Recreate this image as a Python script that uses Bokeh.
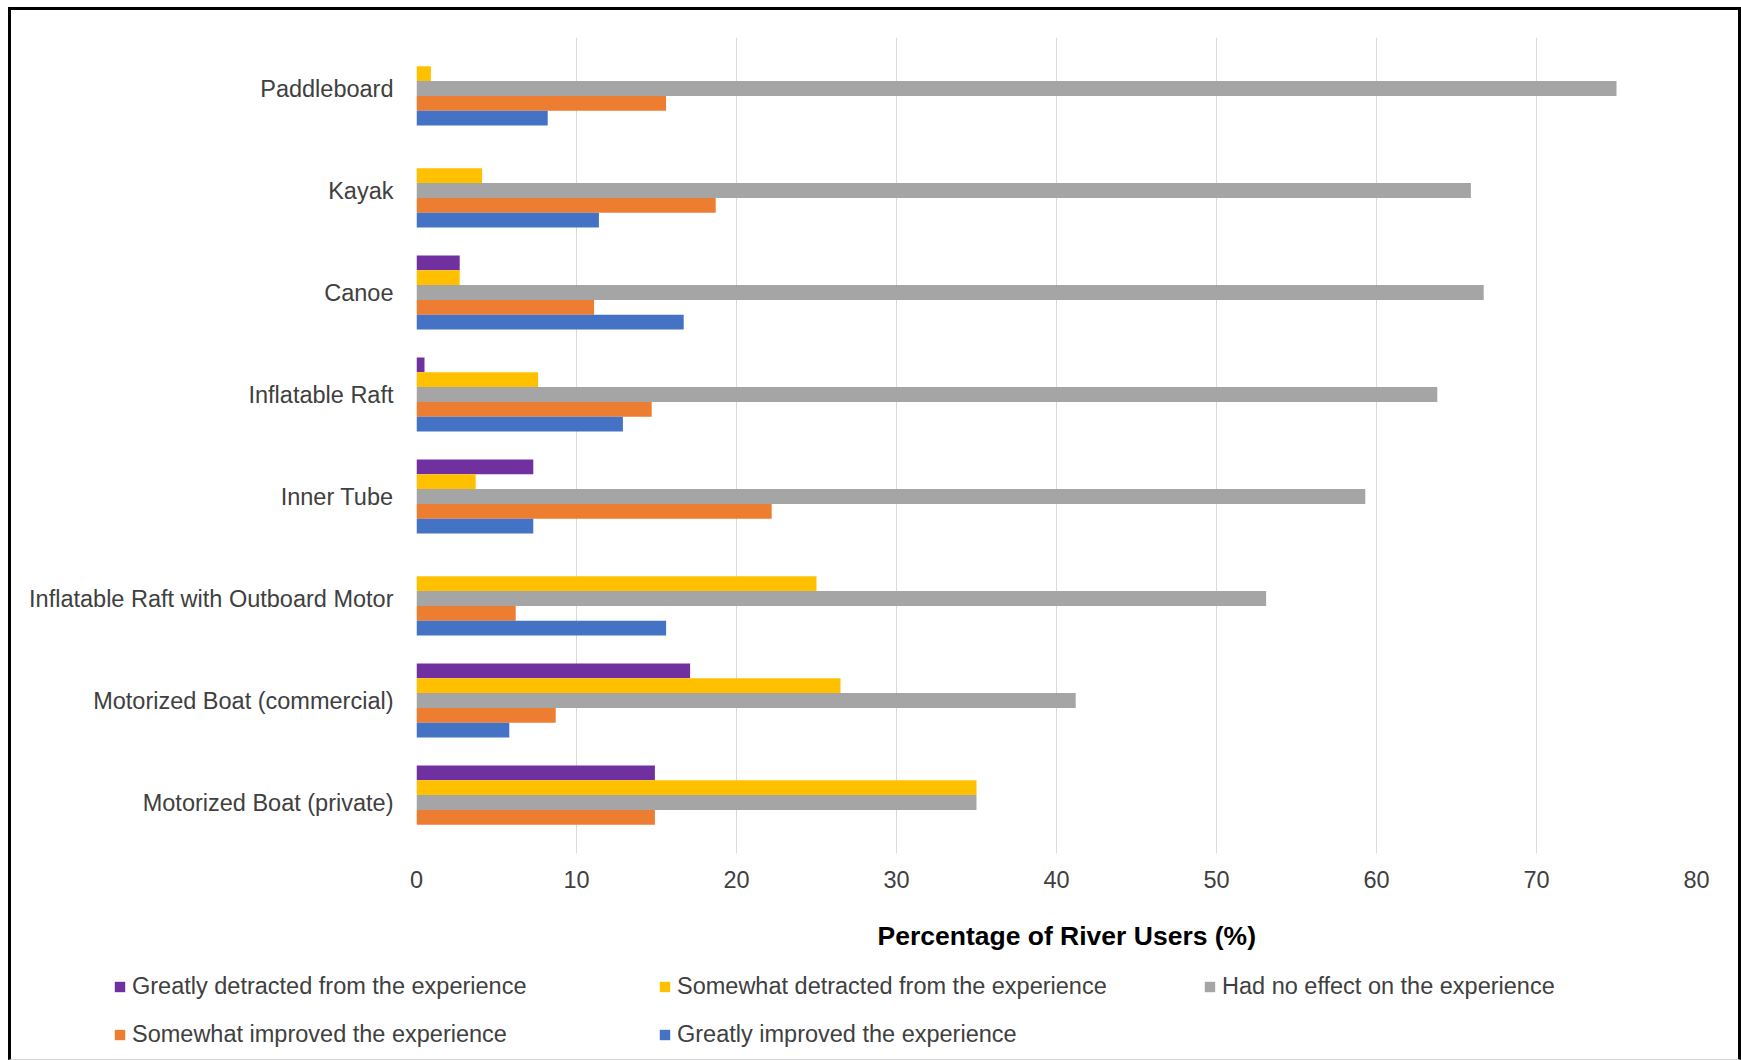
from bokeh.plotting import figure
from bokeh.models import FactorRange, Legend, LegendItem, ColumnDataSource, Range1d, Title
from bokeh.layouts import column
from bokeh.transform import dodge
from bokeh.embed import file_html
from bokeh.resources import INLINE

# ---- data (percentage of river users) ----
categories = [
    "Paddleboard",
    "Kayak",
    "Canoe",
    "Inflatable Raft",
    "Inner Tube",
    "Inflatable Raft with Outboard Motor",
    "Motorized Boat (commercial)",
    "Motorized Boat (private)",
]
series_names = [
    "Greatly detracted from the experience",
    "Somewhat detracted from the experience",
    "Had no effect on the experience",
    "Somewhat improved the experience",
    "Greatly improved the experience",
]
greatly_detracted = [0.0, 0.0, 2.7, 0.5, 7.3, 0.0, 17.1, 14.9]
somewhat_detracted = [0.9, 4.1, 2.7, 7.6, 3.7, 25.0, 26.5, 35.0]
no_effect = [75.0, 65.9, 66.7, 63.8, 59.3, 53.1, 41.2, 35.0]
somewhat_improved = [15.6, 18.7, 11.1, 14.7, 22.2, 6.2, 8.7, 14.9]
greatly_improved = [8.2, 11.4, 16.7, 12.9, 7.3, 15.6, 5.8, 0.0]
x_ticks = [0, 10, 20, 30, 40, 50, 60, 70, 80]
x_title = "Percentage of River Users (%)"

colors = ["#7030A0", "#FFC000", "#A5A5A5", "#ED7D31", "#4472C4"]
cols = ["gd", "sd", "ne", "si", "gi"]

source = ColumnDataSource(dict(
    category=categories,
    gd=greatly_detracted,
    sd=somewhat_detracted,
    ne=no_effect,
    si=somewhat_improved,
    gi=greatly_improved,
))

FONT = "Liberation Sans"
TXT = "#404040"

# ---- main chart ----
p = figure(
    width=1727, height=895,
    x_range=(0, 80),
    y_range=FactorRange(factors=categories[::-1], range_padding=0),
    output_backend="svg", toolbar_location=None,
    min_border_left=405, min_border_right=42, min_border_top=27, min_border_bottom=52,
)
p.frame_align = False
p.background_fill_color = "white"
p.border_fill_color = "white"
p.outline_line_color = None

bar_h = 0.145
for i, (c, col) in enumerate(zip(colors, cols)):
    off = (2 - i) * bar_h
    p.hbar(y=dodge("category", off, range=p.y_range), left=0, right=col,
           height=bar_h, fill_color=c, line_color=None, source=source)

p.xaxis.ticker = x_ticks
p.xaxis.axis_line_color = None
p.xaxis.major_tick_line_color = None
p.xaxis.minor_tick_line_color = None
p.xaxis.major_label_text_font = FONT
p.xaxis.major_label_text_font_size = "23.5px"
p.xaxis.major_label_text_color = TXT
p.xaxis.major_label_standoff = 11

p.yaxis.axis_line_color = None
p.yaxis.major_tick_line_color = None
p.yaxis.minor_tick_line_color = None
p.yaxis.major_label_text_font = FONT
p.yaxis.major_label_text_font_size = "23.5px"
p.yaxis.major_label_text_color = TXT
p.yaxis.major_label_standoff = 17

p.xgrid.grid_line_color = "#D9D9D9"
p.xgrid.grid_line_width = 1
p.ygrid.grid_line_color = None

# ---- axis title + legend strip (same series colours; its bars lie outside its view) ----
lg = figure(
    width=1727, height=154,
    x_range=Range1d(0, 1), y_range=Range1d(0, 1),
    x_axis_type=None, y_axis_type=None,
    output_backend="svg", toolbar_location=None,
    min_border=0, min_border_left=0, min_border_right=0,
    min_border_top=0, min_border_bottom=0,
)
lg.frame_align = False
lg.background_fill_color = "white"
lg.border_fill_color = "white"
lg.outline_line_color = None
lg.grid.grid_line_color = None
lg.title = Title(text=x_title, align="left", offset=866, vertical_align="top",
                 standoff=30, text_font=FONT, text_font_size="26.5px",
                 text_font_style="bold", text_color="black")
lg.title_location = "above"

items = []
for c, name in zip(colors, series_names):
    r = lg.hbar(y=[-5], left=[0], right=[1], height=0.1, fill_color=c, line_color=None)
    items.append(LegendItem(label=name, renderers=[r]))

legend = Legend(
    items=items, ncols=3, orientation="horizontal",
    location=(102, 11),
    label_text_font=FONT, label_text_font_size="23.5px", label_text_color=TXT,
    glyph_width=13, glyph_height=13, label_standoff=6,
    label_width=505, label_height=26, spacing=21,
    padding=0, margin=0, border_line_color=None, background_fill_alpha=0,
)
lg.add_layout(legend, "center")

layout = column(
    p, lg,
    styles={
        "border-left": "3px solid black",
        "border-top": "3px solid black",
        "border-right": "3px solid black",
        "border-bottom": "1px solid #d4d4d4",
        "margin-left": "8px",
        "margin-top": "7px",
    },
)

open("out.html", "w").write(file_html(layout, INLINE))
